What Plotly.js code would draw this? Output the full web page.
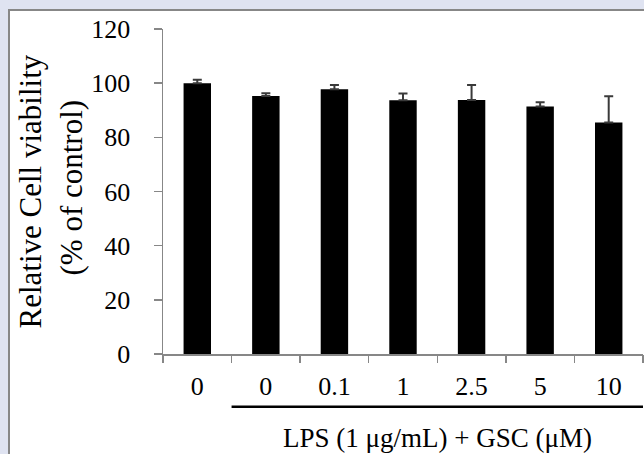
<!DOCTYPE html>
<html>
<head>
<meta charset="utf-8">
<script src="https://cdn.plot.ly/plotly-3.0.1.min.js"></script>
<style>
  html, body { margin: 0; padding: 0; background: #dfe3f1; width: 644px; height: 454px; overflow: hidden; }
  #frame { position: absolute; left: 8px; top: 9px; width: 640px; height: 450px; background: #ffffff;
           border-left: 2px solid #878787; border-top: 2px solid #878787; }
  #chart { position: absolute; left: 0; top: 0; width: 644px; height: 454px; }
</style>
</head>
<body>
<div id="frame"></div>
<div id="chart"></div>
<script>
// Data
const tickLabels = ["0", "0", "0.1", "1", "2.5", "5", "10"];
const viability = [100.0, 95.3, 97.8, 93.7, 93.8, 91.4, 85.5];
const errUpper  = [1.3, 1.0, 1.5, 2.5, 5.5, 1.6, 9.7];
const yTicks = [0, 20, 40, 60, 80, 100, 120];
const yTitleLine1 = "Relative Cell viability";
const yTitleLine2 = "(% of control)";
const xTitle = "LPS (1 μg/mL) + GSC (μM)";
const lpsGroupStart = 1; // first category in the LPS + GSC group
const lpsGroupEnd = 6;   // last category in the group

const positions = tickLabels.map((_, i) => i);
const serif = "'Liberation Serif', 'Times New Roman', serif";
const axisGray = "#878787";

const trace = {
  type: "bar",
  x: positions,
  y: viability,
  width: 0.4,
  marker: { color: "#000000", line: { color: "#000000", width: 0 } },
  error_y: {
    type: "data",
    symmetric: false,
    array: errUpper,
    arrayminus: errUpper.map(() => 0),
    color: "#3a3a3a",
    thickness: 2,
    width: 4.5
  },
  hoverinfo: "skip"
};

const layout = {
  width: 644,
  height: 454,
  margin: { l: 163, r: 1, t: 29, b: 100 },
  paper_bgcolor: "rgba(0,0,0,0)",
  plot_bgcolor: "rgba(0,0,0,0)",
  showlegend: false,
  bargap: 0.6,
  xaxis: {
    range: [-0.5, tickLabels.length - 0.5],
    tickmode: "array",
    tickvals: positions.map(p => p),
    ticktext: tickLabels,
    showgrid: false,
    zeroline: false,
    showline: true,
    linecolor: axisGray,
    linewidth: 1.5,
    ticks: "",
    tickfont: { family: serif, size: 26, color: "#000000" },
    ticklabelstandoff: 8,
    fixedrange: true
  },
  xaxis2: {
    overlaying: "x",
    range: [-0.5, tickLabels.length - 0.5],
    tickmode: "array",
    tickvals: positions.concat([tickLabels.length]).map(p => p - 0.5),
    ticktext: positions.concat([tickLabels.length]).map(() => ""),
    ticks: "outside",
    ticklen: 8,
    tickwidth: 1.5,
    tickcolor: axisGray,
    showgrid: false,
    zeroline: false,
    showline: false,
    showticklabels: false,
    anchor: "y",
    side: "bottom",
    fixedrange: true
  },
  yaxis: {
    range: [0, 120],
    tickmode: "array",
    tickvals: yTicks,
    ticktext: yTicks.map(String),
    showgrid: false,
    zeroline: false,
    showline: true,
    linecolor: axisGray,
    linewidth: 1.5,
    ticks: "outside",
    ticklen: 8,
    tickwidth: 1.5,
    tickcolor: axisGray,
    tickfont: { family: serif, size: 26, color: "#000000" },
    ticklabelstandoff: 18,
    fixedrange: true
  },
  shapes: [{
    type: "line",
    xref: "x",
    yref: "paper",
    x0: lpsGroupStart - 0.5,
    x1: lpsGroupEnd + 0.5,
    y0: -0.162,
    y1: -0.162,
    line: { color: "#000000", width: 2.5 }
  }],
  annotations: [
    {
      xref: "x", yref: "paper",
      x: (lpsGroupStart + lpsGroupEnd) / 2, y: 0,
      xanchor: "center", yanchor: "middle",
      yshift: -84,
      text: xTitle, showarrow: false,
      font: { family: serif, size: 27, color: "#000000" }
    },
    {
      xref: "paper", yref: "paper",
      x: 0, y: 0.5, xanchor: "center", yanchor: "middle",
      xshift: -133, textangle: -90,
      text: yTitleLine1, showarrow: false,
      font: { family: serif, size: 31, color: "#000000" }
    },
    {
      xref: "paper", yref: "paper",
      x: 0, y: 0.5, xanchor: "center", yanchor: "middle",
      xshift: -92, yshift: 4, textangle: -90,
      text: yTitleLine2, showarrow: false,
      font: { family: serif, size: 31, color: "#000000" }
    }
  ]
};

const dummy = { type: "scatter", x: [], y: [], xaxis: "x2", yaxis: "y", hoverinfo: "skip" };

Plotly.newPlot("chart", [trace, dummy], layout, { displayModeBar: false, staticPlot: true });
</script>
</body>
</html>
